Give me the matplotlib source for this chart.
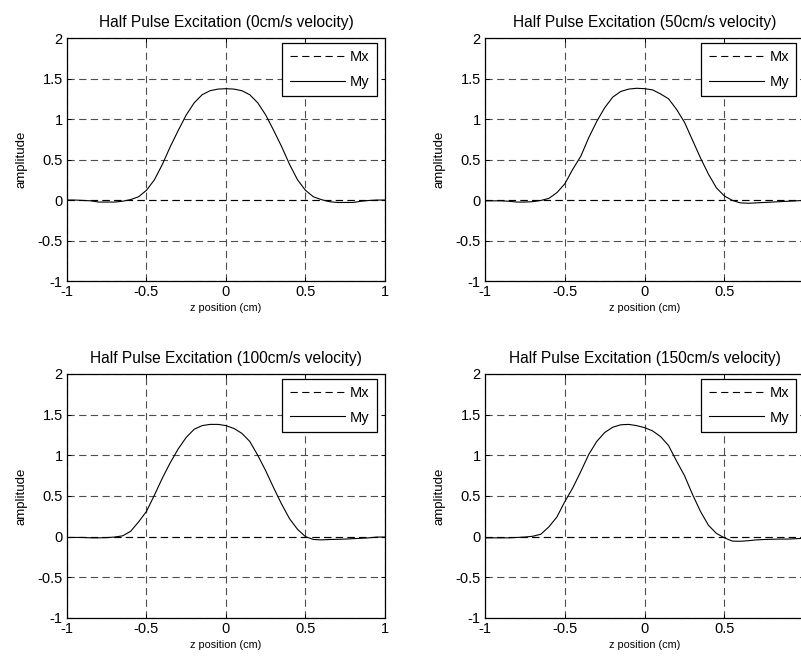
import numpy as np
import matplotlib
matplotlib.use("Agg")
from matplotlib import pyplot as plt

plt.rcParams['font.family'] = ['Liberation Sans', 'DejaVu Sans']
plt.rcParams['axes.unicode_minus'] = False

# z positions (cm) the magnetisation was sampled at
z = np.round(np.arange(-1.0, 1.0001, 0.05), 2)

velocities = [0, 50, 100, 150]  # cm/s

# My for each velocity, read at the z positions above
my_0 = [0.0, 0.0, -0.005, -0.01, -0.025, -0.025, -0.025, -0.015, 0.005, 0.04,
        0.12, 0.25, 0.44, 0.66, 0.86, 1.05, 1.20, 1.30, 1.35, 1.37,
        1.375,
        1.37, 1.35, 1.30, 1.20, 1.05, 0.86, 0.66, 0.44, 0.25, 0.12,
        0.04, 0.005, -0.02, -0.03, -0.03, -0.03, -0.015, -0.005, 0.0, 0.0]
my_50 = [-0.01, -0.01, -0.01, -0.015, -0.025, -0.025, -0.02, -0.005, 0.02, 0.09,
         0.20, 0.38, 0.54, 0.77, 0.97, 1.14, 1.27, 1.34, 1.37, 1.38,
         1.375,
         1.36, 1.31, 1.25, 1.12, 0.96, 0.74, 0.52, 0.32, 0.15, 0.05,
         -0.005, -0.035, -0.04, -0.035, -0.03, -0.025, -0.02, -0.015, -0.01, -0.005]
my_100 = [-0.01, -0.01, -0.01, -0.015, -0.015, -0.012, -0.005, 0.01, 0.065, 0.18,
          0.31, 0.51, 0.72, 0.91, 1.08, 1.22, 1.32, 1.365, 1.38, 1.38,
          1.365,
          1.33, 1.27, 1.17, 1.00, 0.81, 0.60, 0.40, 0.22, 0.09, 0.0,
          -0.035, -0.04, -0.035, -0.033, -0.03, -0.025, -0.02, -0.015, -0.005, -0.005]
my_150 = [-0.015, -0.015, -0.015, -0.015, -0.01, -0.005, 0.005, 0.03, 0.12, 0.24,
          0.43, 0.60, 0.80, 1.01, 1.17, 1.28, 1.345, 1.375, 1.38, 1.365,
          1.34,
          1.30, 1.23, 1.12, 0.93, 0.75, 0.52, 0.31, 0.14, 0.04, -0.015,
          -0.055, -0.057, -0.05, -0.04, -0.035, -0.032, -0.03, -0.03, -0.025, -0.02]
my_all = [my_0, my_50, my_100, my_150]

# Mx stays at zero for every velocity
mx = np.zeros(len(z))

xticks = [-1, -0.5, 0, 0.5, 1]
yticks = [-1, -0.5, 0, 0.5, 1, 1.5, 2]

dash = (0, (6.5, 4))

fig = plt.figure(figsize=(8.01, 6.62), dpi=100)

# axes boxes [left, bottom, width, height]; the right column runs off the edge
boxes = [[0.0836, 0.5755, 0.397, 0.367],
         [0.6055, 0.5755, 0.3985, 0.367],
         [0.0836, 0.0665, 0.397, 0.3686],
         [0.6055, 0.0665, 0.3985, 0.3686]]

for i, (box, v, my) in enumerate(zip(boxes, velocities, my_all)):
    ax = fig.add_axes(box)
    ax.plot(z, mx, color='k', lw=0.8, ls=dash, label='Mx')
    ax.plot(z, my, color='k', lw=0.8, label='My')
    ax.set_xlim(-1, 1)
    ax.set_ylim(-1, 2)
    ax.set_xticks(xticks)
    ax.set_yticks(yticks)
    xlabels = [str(t) for t in xticks]
    if i % 2 == 1:
        # last label falls off the right edge of the figure
        xlabels[-1] = ''
    ax.set_xticklabels(xlabels)
    ax.set_yticklabels([str(t) for t in yticks])
    ax.grid(True, color='0.3', lw=0.8, ls=dash)
    ax.tick_params(direction='in', length=3, width=0.7, labelsize=10.5,
                   top=True, right=True, pad=3)
    for s in ax.spines.values():
        s.set_linewidth(0.9)
    ax.set_title('Half Pulse Excitation (%dcm/s velocity)' % v, fontsize=11.2, pad=8)
    ax.set_xlabel('z position (cm)', fontsize=7.8, labelpad=3)
    ax.set_ylabel('amplitude', fontsize=9.5, labelpad=7.5)
    leg = ax.legend(loc='upper right', bbox_to_anchor=(0.975, 0.979),
                    borderaxespad=0, fontsize=10.5, handlelength=3.8,
                    handletextpad=0.35, borderpad=0.5, labelspacing=0.7,
                    fancybox=False, framealpha=1)
    leg.get_frame().set_edgecolor('k')
    leg.get_frame().set_linewidth(0.9)

fig.savefig('out.png', dpi=100)
